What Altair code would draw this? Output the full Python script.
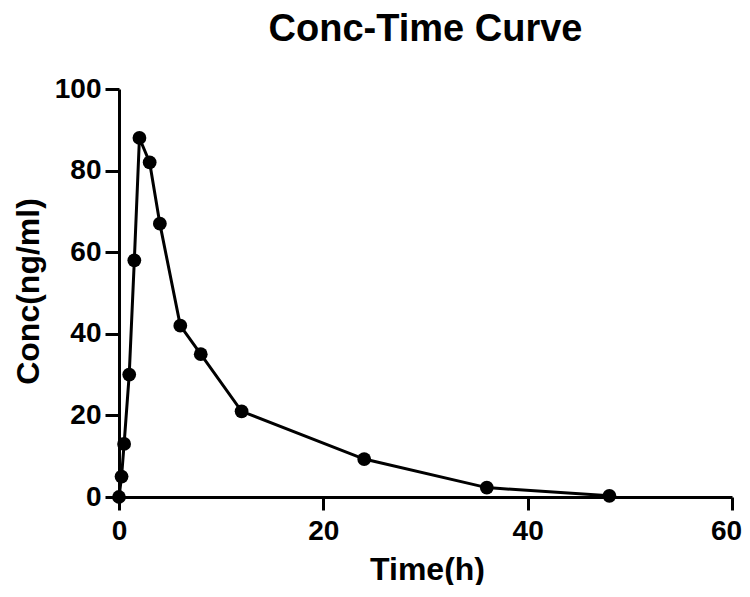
import altair as alt
import pandas as pd

time_h = [0, 0.25, 0.5, 1, 1.5, 2, 3, 4, 6, 8, 12, 24, 36, 48]
conc = [0, 5, 13, 30, 58, 88, 82, 67, 42, 35, 21, 9.3, 2.3, 0.3]
x_ticks = [0, 20, 40, 60]
y_ticks = [0, 20, 40, 60, 80, 100]

df = pd.DataFrame({"Time": time_h, "Conc": conc})

FONT = "Liberation Sans"

x = alt.X("Time:Q",
          scale=alt.Scale(domain=[0, 60], nice=False, zero=False),
          axis=alt.Axis(title="Time(h)", values=x_ticks, grid=False,
                        domainWidth=3, tickWidth=3, tickSize=13, domainColor="black", tickColor="black",
                        labelFont=FONT, labelFontSize=28, labelFontWeight="bold", labelColor="black",
                        labelPadding=7, labelFlush=False,
                        labelOffset={"condition": {"test": "datum.value == 60", "value": -6}, "value": 0},
                        titleFont=FONT, titleFontSize=32, titleFontWeight="bold", titleColor="black",
                        titleX=308, titleY=72, titleBaseline="middle"))
y = alt.Y("Conc:Q",
          scale=alt.Scale(domain=[0, 100], nice=False),
          axis=alt.Axis(title="Conc(ng/ml)", values=y_ticks, grid=False,
                        domainWidth=3, tickWidth=3, tickSize=14, domainColor="black", tickColor="black",
                        labelFont=FONT, labelFontSize=28, labelFontWeight="bold", labelColor="black",
                        labelPadding=4, labelFlush=False,
                        titleFont=FONT, titleFontSize=32, titleFontWeight="bold", titleColor="black",
                        titleX=-91, titleY=202, titleAngle=270, titleBaseline="middle", titleAlign="center"))

line = alt.Chart(df).mark_line(color="black", strokeWidth=3).encode(x=x, y=y, order="Time:Q")
pts = alt.Chart(df).mark_circle(color="black", opacity=1, size=190).encode(x="Time:Q", y="Conc:Q")

chart = (line + pts).properties(
    width=613, height=408,
    title=alt.TitleParams("Conc-Time Curve", font=FONT, fontSize=38, fontWeight="bold",
                          color="black", anchor="middle", offset=26),
    autosize=alt.AutoSizeParams(type="none"),
    padding={"left": 111, "top": 81, "right": 10, "bottom": 88},
).configure_view(stroke=None)

chart.save("out.html", embed_options={"renderer": "svg", "actions": False})
